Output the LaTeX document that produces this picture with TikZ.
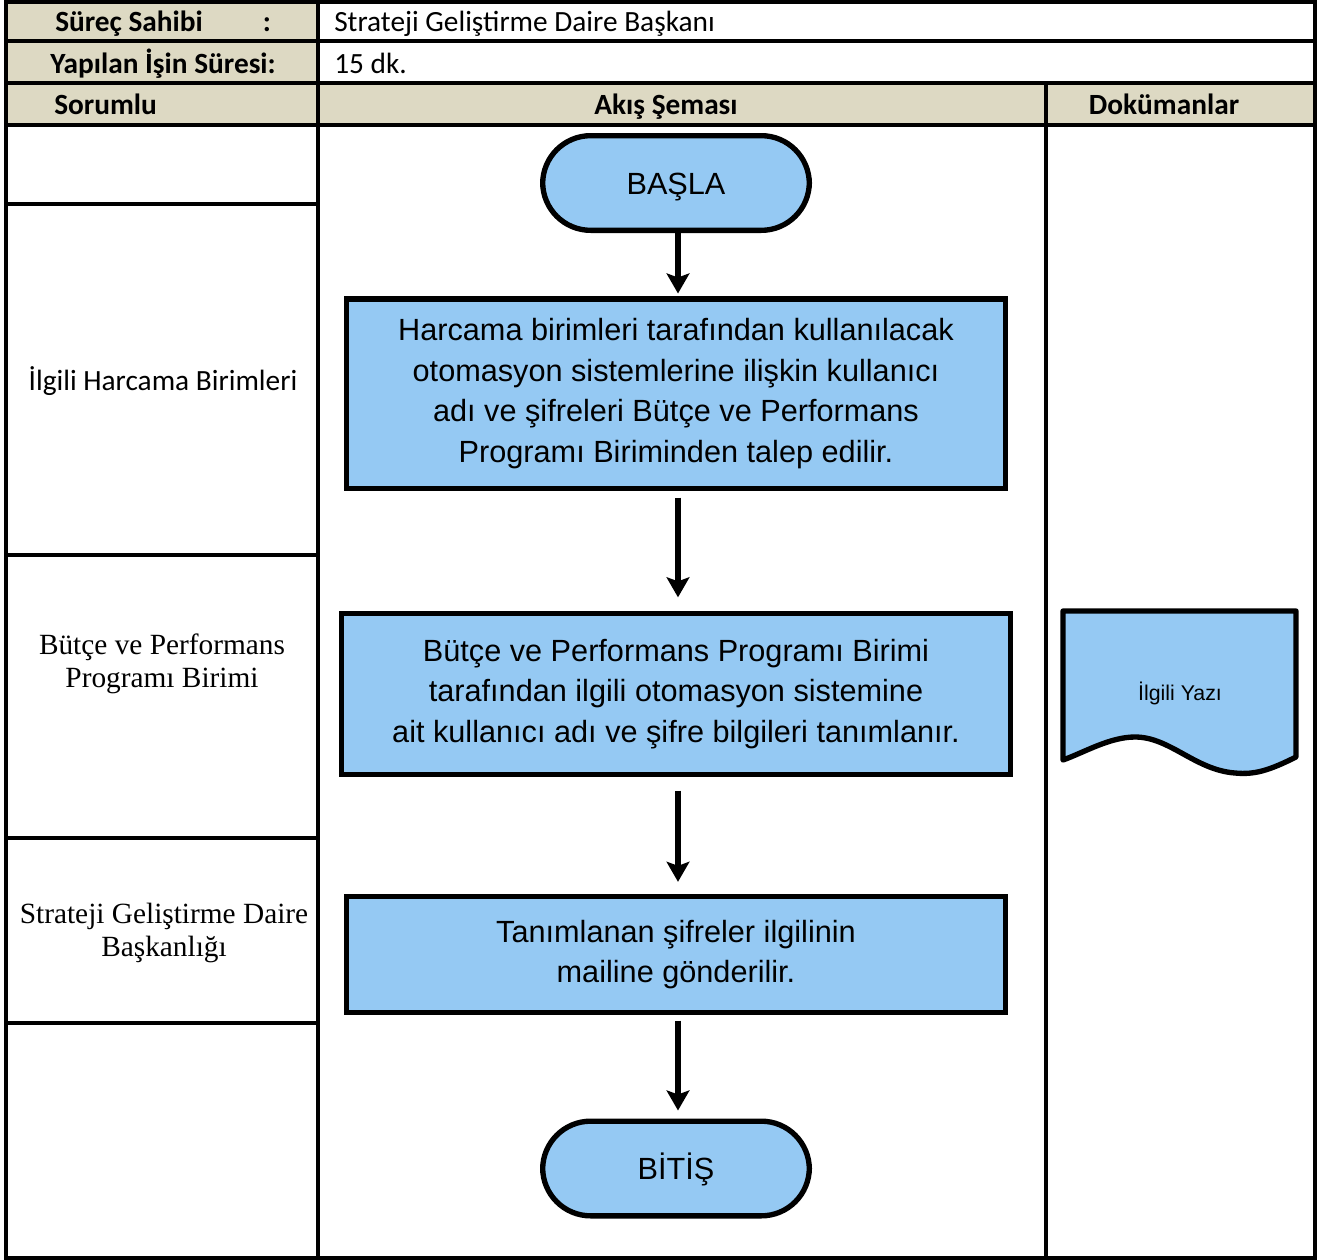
\documentclass[tikz,border=0pt]{standalone}
\usepackage{fontspec}
\setmainfont{Liberation Sans}
\newfontfamily\hdr{Carlito}
\newfontfamily\tms{Liberation Serif}
\usetikzlibrary{arrows.meta,calc}
\definecolor{beige}{RGB}{221,217,195}
\definecolor{flowblue}{RGB}{149,201,243}
\begin{document}
\begin{tikzpicture}[x=0.75pt,y=-0.75pt,
  cell/.style={draw=black,line width=2.4pt},
  hcell/.style={cell,fill=beige},
  hdrtxt/.style={font=\hdr\bfseries\fontsize{22}{26}\selectfont,inner sep=0pt},
  celltxt/.style={font=\hdr\fontsize{22}{26}\selectfont,inner sep=0pt},
  tmstxt/.style={font=\tms\fontsize{22}{25}\selectfont,align=center,inner sep=0pt},
  procbox/.style={draw=black,line width=4pt,fill=flowblue,align=center,
     font=\fontsize{23}{30.5}\selectfont,inner sep=0pt},
  termbox/.style={procbox,rounded corners=36pt,minimum width=200pt,minimum height=71pt,
     text height=16.5pt,text depth=0pt},
  flowarrow/.style={line width=4.2pt,-{Stealth[length=15pt,width=17pt,inset=3pt]}}
]
\useasboundingbox (0,0) rectangle (1318,1260);
% header rows
\draw[hcell] (6,2) rectangle (318,41);
\draw[cell,fill=white] (318,2) rectangle (1315,41);
\draw[hcell] (6,41) rectangle (318,83);
\draw[cell,fill=white] (318,41) rectangle (1315,83);
\draw[hcell] (6,83) rectangle (318,125);
\draw[hcell] (318,83) rectangle (1046,125);
\draw[hcell] (1046,83) rectangle (1315,125);
% body
\draw[cell] (6,125) rectangle (318,204);
\draw[cell] (6,204) rectangle (318,555);
\draw[cell] (6,555) rectangle (318,838);
\draw[cell] (6,838) rectangle (318,1023);
\draw[cell] (6,1023) rectangle (318,1258);
\draw[cell] (318,125) rectangle (1046,1258);
\draw[cell] (1046,125) rectangle (1315,1258);
% header texts
\node[hdrtxt,anchor=base west] (h1) at (55,31) {Süreç Sahibi};
\node[hdrtxt,anchor=base] (h1c) at (267,31) {:};
\node[celltxt,anchor=base west] (v1) at (334,31) {Strateji Geliştirme Daire Başkanı};
\node[hdrtxt,anchor=base] (h2) at (163,73) {Yapılan İşin Süresi:};
\node[celltxt,anchor=base west] (v2) at (334,73) {15 dk.};
\node[hdrtxt,anchor=base west] (h3) at (54,114) {Sorumlu};
\node[hdrtxt,anchor=base] (h4) at (666,114) {Akış Şeması};
\node[hdrtxt,anchor=base] (h5) at (1164,114) {Dokümanlar};
% left labels
\node[celltxt] (l1) at (163,381) {İlgili Harcama Birimleri};
\node[tmstxt] (l2) at (162,664) {Bütçe ve Performans\\Programı Birimi};
\node[tmstxt] (l3) at (164,933) {Strateji Geliştirme Daire\\Başkanlığı};
% flow
\node[termbox] (b0) at (676,183) {BAŞLA};
\node[procbox,minimum width=494pt,minimum height=142pt] (b1) at (676,393.5)
  {Harcama birimleri tarafından kullanılacak\\otomasyon sistemlerine ilişkin kullanıcı\\adı ve şifreleri Bütçe ve Performans\\Programı Biriminden talep edilir.};
\node[procbox,minimum width=502pt,minimum height=121pt] (b2) at (676,694)
  {Bütçe ve Performans Programı Birimi\\tarafından ilgili otomasyon sistemine\\ait kullanıcı adı ve şifre bilgileri tanımlanır.};
\node[procbox,minimum width=494pt,minimum height=87pt] (b3) at (676,954.5)
  {Tanımlanan şifreler ilgilinin\\mailine gönderilir.};
\node[termbox] (b4) at (676,1168.5) {BİTİŞ};
\draw[flowarrow,shorten >=2pt] ($(b0.south)+(2,0)$) -- ($(b1.north)+(2,0)$);
\draw[flowarrow,shorten <=5pt,shorten >=10pt] ($(b1.south)+(2,0)$) -- ($(b2.north)+(2,0)$);
\draw[flowarrow,shorten <=10pt,shorten >=9pt] ($(b2.south)+(2,0)$) -- ($(b3.north)+(2,0)$);
\draw[flowarrow,shorten <=4pt,shorten >=6pt] ($(b3.south)+(2,0)$) -- ($(b4.north)+(2,0)$);
% document shape
\draw[line width=4pt,fill=flowblue,line join=round]
  (1063,611) -- (1296,611) -- (1296,757)
  .. controls (1270,770) and (1255,775) .. (1235,773)
  .. controls (1195,770) and (1170,737) .. (1135,737)
  .. controls (1110,737) and (1085,752) .. (1063,760) -- cycle;
\node[font=\fontsize{16}{19}\selectfont,inner sep=0pt] (doc) at (1180,693) {İlgili Yazı};
\end{tikzpicture}
\end{document}
